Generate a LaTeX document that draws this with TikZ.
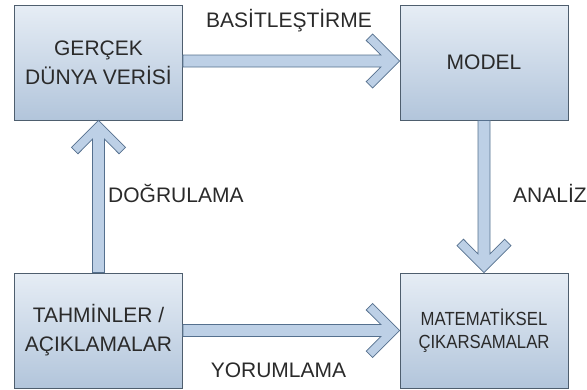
\documentclass[tikz,border=0pt]{standalone}
\usepackage{fontspec}
\setmainfont{Liberation Sans}
\newfontfamily\narrowsans[FakeStretch=0.88]{Liberation Sans}
\usetikzlibrary{calc}

\definecolor{boxtop}{HTML}{E6EDF5}
\definecolor{boxbot}{HTML}{B2C5DB}
\definecolor{boxline}{HTML}{4E5E6E}
\definecolor{arrowfill}{HTML}{BDD0E6}
\definecolor{arrowline}{HTML}{55708E}
\definecolor{ink}{HTML}{2A2A2A}

\begin{document}
\begin{tikzpicture}[x=1bp,y=-1bp,
  stagebox/.style={draw=boxline, line width=0.8bp, top color=boxtop, bottom color=boxbot,
    minimum width=168bp, minimum height=115bp, inner sep=0pt, align=center,
    text=ink, font=\fontsize{21bp}{29bp}\selectfont},
  steplabel/.style={text=ink, inner sep=0pt, font=\fontsize{21bp}{25bp}\selectfont},
  % hollow block arrow: shaft of half width 6bp, open chevron head
  blockarrow/.style={draw=arrowline, fill=arrowfill, line width=0.8bp, line join=miter,
    to path={
      ($(\tikztostart)!6bp!90:(\tikztotarget)$)
      -- ($(\tikztotarget)!18.7bp!(\tikztostart)!6bp!-90:(\tikztostart)$)
      -- ($(\tikztotarget)!33.4bp!(\tikztostart)!20.6bp!-90:(\tikztostart)$)
      -- ($(\tikztotarget)!27bp!(\tikztostart)!27bp!-90:(\tikztostart)$)
      -- (\tikztotarget)
      -- ($(\tikztotarget)!27bp!(\tikztostart)!27bp!90:(\tikztostart)$)
      -- ($(\tikztotarget)!33.4bp!(\tikztostart)!20.6bp!90:(\tikztostart)$)
      -- ($(\tikztotarget)!18.7bp!(\tikztostart)!6bp!90:(\tikztostart)$)
      -- ($(\tikztostart)!6bp!-90:(\tikztotarget)$)
      -- cycle}}
]
\useasboundingbox (0,0) rectangle (587,389);

% the four stages of the modelling cycle
\node[stagebox] (real) at (98.5,62.5) {GERÇEK\\DÜNYA VERİSİ};
\node[stagebox] (model) at (484,62.5) {MODEL};
\node[stagebox] (pred) at (98.5,330.5) {TAHMİNLER /\\AÇIKLAMALAR};
\node[stagebox, font=\narrowsans\fontsize{19bp}{23bp}\selectfont] (math) at (484,330.5)
  {MATEMATİKSEL\\ÇIKARSAMALAR};

% transitions between the stages
\draw[blockarrow] ([yshift=1.5bp]real.east) to ([yshift=1.5bp]model.west);
\draw[blockarrow] (model.south) to (math.north);
\draw[blockarrow] (pred.east) to (math.west);
\draw[blockarrow] (pred.north) to (real.south);

% transition names
\node[steplabel, anchor=base] (lsimp) at (289,27) {BASİTLEŞTİRME};
\node[steplabel, anchor=base west] (lanal) at (513,202) {ANALİZ};
\node[steplabel, anchor=base west] (lverif) at (108,202) {DOĞRULAMA};
\node[steplabel, anchor=base] (linterp) at (278.5,377) {YORUMLAMA};
\end{tikzpicture}
\end{document}
